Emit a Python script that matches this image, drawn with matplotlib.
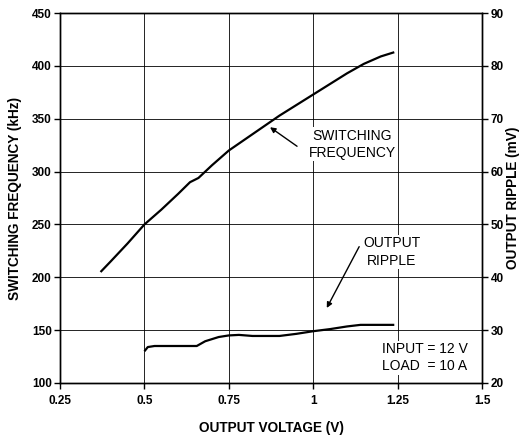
import matplotlib
matplotlib.use('Agg')
import matplotlib.pyplot as plt

plt.rcParams['font.family'] = ['Liberation Sans', 'DejaVu Sans']
matplotlib.rcParams['xtick.direction'] = 'out'
matplotlib.rcParams['ytick.direction'] = 'out'

# switching frequency (kHz) vs output voltage (V)
vout_f = [0.37, 0.40, 0.45, 0.50, 0.55, 0.60, 0.635, 0.66, 0.70, 0.75, 0.80,
          0.85, 0.90, 0.95, 1.00, 1.05, 1.10, 1.15, 1.20, 1.24]
freq = [205, 215, 232, 250, 264, 279, 290, 294, 306, 320, 331,
        342, 353, 363, 373, 383, 393, 402, 409, 413]

# output ripple (mV) vs output voltage (V)
vout_r = [0.50, 0.51, 0.53, 0.60, 0.655, 0.68, 0.72, 0.75, 0.78, 0.82,
          0.90, 0.95, 1.00, 1.05, 1.10, 1.14, 1.24]
ripple = [26.0, 26.8, 27.0, 27.0, 27.0, 27.9, 28.7, 29.0, 29.1, 28.9,
          28.9, 29.3, 29.8, 30.2, 30.7, 31.0, 31.0]

xticks = [0.25, 0.5, 0.75, 1.0, 1.25, 1.5]
xticklabels = ['0.25', '0.5', '0.75', '1', '1.25', '1.5']
yticks_f = [100, 150, 200, 250, 300, 350, 400, 450]
yticks_r = [20, 30, 40, 50, 60, 70, 80, 90]

fig = plt.figure(figsize=(5.24, 4.37), dpi=100)
ax = fig.add_axes([0.1145, 0.1236, 0.8055, 0.8464])
ax2 = ax.twinx()

ax.plot(vout_f, freq, color='black', lw=1.6, solid_capstyle='butt')
ax2.plot(vout_r, ripple, color='black', lw=1.6, solid_capstyle='butt')

ax.set_xlim(0.25, 1.5)
ax.set_ylim(100, 450)
ax2.set_ylim(20, 90)
ax.set_xticks(xticks)
ax.set_xticklabels(xticklabels)
ax.set_yticks(yticks_f)
ax2.set_yticks(yticks_r)
ax.grid(True, color='black', lw=0.6)

for a in (ax, ax2):
    for s in a.spines.values():
        s.set_linewidth(1.0)
    a.tick_params(length=4, width=1.0, labelsize=8.5, pad=2)
    for lab in a.get_xticklabels() + a.get_yticklabels():
        lab.set_fontweight('bold')
ax.tick_params(axis='x', pad=5)

ax.set_xlabel('OUTPUT VOLTAGE (V)', fontsize=9.8, fontweight='bold', labelpad=10)
ax.set_ylabel('SWITCHING FREQUENCY (kHz)', fontsize=9.8, fontweight='bold', labelpad=7)
ax2.set_ylabel('OUTPUT RIPPLE (mV)', fontsize=9.8, fontweight='bold', labelpad=2)

arrow = dict(arrowstyle='-|>', color='black', lw=1.0, mutation_scale=8, shrinkA=0, shrinkB=0)
ax.text(1.115, 326, 'SWITCHING\nFREQUENCY', ha='center', va='center', fontsize=10,
        linespacing=1.3, bbox=dict(fc='white', ec='none', pad=1))
ax.annotate('', xy=(0.872, 342), xytext=(0.952, 324), arrowprops=arrow)
ax.text(1.233, 224, 'OUTPUT\nRIPPLE', ha='center', va='center', fontsize=10,
        linespacing=1.3, bbox=dict(fc='white', ec='none', pad=1))
ax.annotate('', xy=(1.04, 171), xytext=(1.136, 229), arrowprops=arrow)
ax.text(1.204, 124, 'INPUT = 12 V\nLOAD  = 10 A', ha='left', va='center', fontsize=10,
        linespacing=1.3, bbox=dict(fc='white', ec='none', pad=1))

fig.savefig('out.png', dpi=100)
